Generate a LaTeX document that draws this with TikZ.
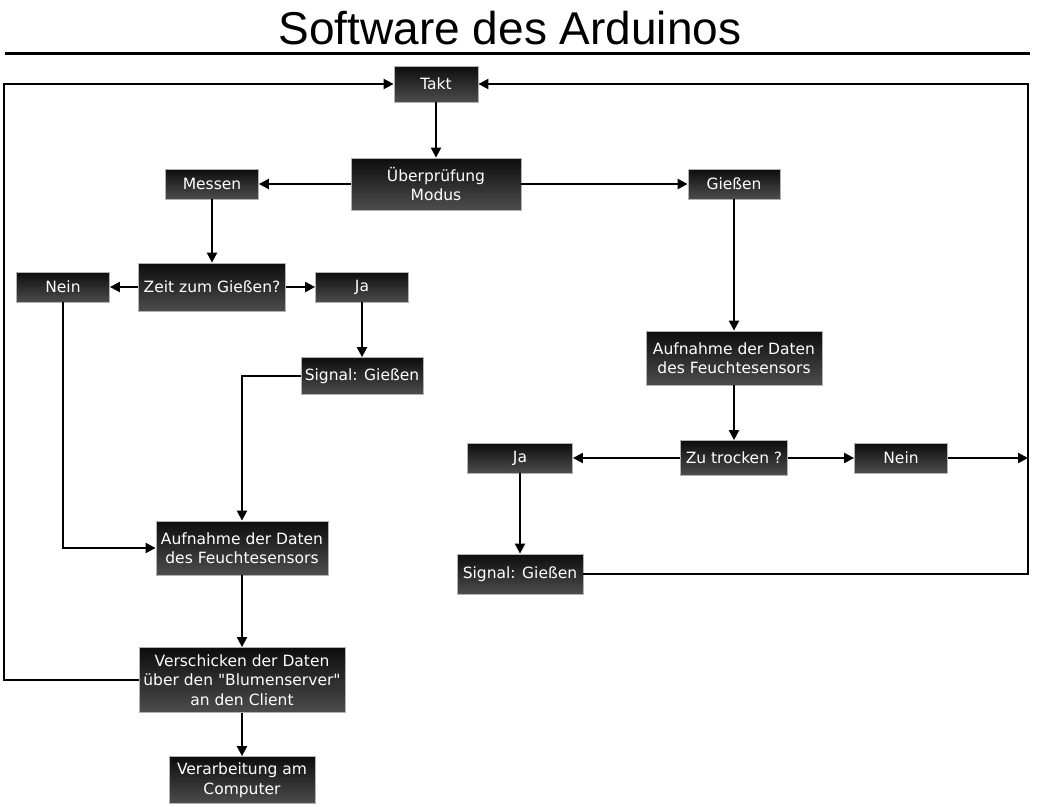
\documentclass[tikz,border=0pt]{standalone}
\usepackage{fontspec}
\setmainfont{DejaVu Sans}[Ligatures=TeXOff]
\newfontfamily\titelfont{Liberation Sans}
\usetikzlibrary{arrows.meta}
\begin{document}
\begin{tikzpicture}[x=1pt,y=-1pt,
  kasten/.style={draw=gray!60,line width=0.8pt,top color=black!95,bottom color=black!70,
    text=white,font=\fontsize{15.5}{19.5}\selectfont,align=center,inner sep=1pt},
  pfeil/.style={line width=2.2pt,-{Triangle[length=10pt,width=10pt]}},
  linie/.style={line width=2.2pt}]
\useasboundingbox (0,0) rectangle (1040,806);

\node [font=\titelfont\fontsize{46}{50}\selectfont] (titel) at (510,28) {Software des Arduinos};
\draw [line width=3pt] (5,53) -- (1030,53);

\node [kasten,minimum width=84pt,minimum height=36pt] (takt) at (436,84) {Takt};
\node [kasten,minimum width=170pt,minimum height=52pt] (pruef) at (436,184) {Überprüfung\\Modus};
\node [kasten,minimum width=93pt,minimum height=30pt] (messen) at (212,184) {Messen};
\node [kasten,minimum width=92pt,minimum height=30pt] (giessen) at (734,184) {Gießen};

\node [kasten,minimum width=147pt,minimum height=48pt] (zeit) at (212,287) {Zeit zum Gießen?};
\node [kasten,minimum width=93pt,minimum height=30pt] (neinL) at (63,287) {Nein};
\node [kasten,minimum width=93pt,minimum height=30pt] (jaL) at (362,287) {Ja};
\node [kasten,minimum width=122pt,minimum height=37pt] (signalL) at (362,376) {Signal: Gießen};
\node [kasten,minimum width=172pt,minimum height=54pt] (aufnL) at (242,548) {Aufnahme der Daten\\des Feuchtesensors};
\node [kasten,minimum width=206pt,minimum height=65pt] (versch) at (242,680) {Verschicken der Daten\\über den "Blumenserver"\\an den Client};
\node [kasten,minimum width=146pt,minimum height=47pt] (verarb) at (242,780) {Verarbeitung am\\Computer};

\node [kasten,minimum width=176pt,minimum height=54pt] (aufnR) at (734,358) {Aufnahme der Daten\\des Feuchtesensors};
\node [kasten,minimum width=107pt,minimum height=35pt] (trocken) at (734,458) {Zu trocken ?};
\node [kasten,minimum width=105pt,minimum height=30pt] (jaR) at (520,458) {Ja};
\node [kasten,minimum width=93pt,minimum height=30pt] (neinR) at (901,458) {Nein};
\node [kasten,minimum width=126pt,minimum height=40pt] (signalR) at (520,574) {Signal: Gießen};

\coordinate (lo) at (4,84);
\coordinate (ro) at (1028,84);
\coordinate (rm) at (1028,458);

\draw [pfeil] (takt) -- (pruef);
\draw [pfeil] (pruef) -- (messen);
\draw [pfeil] (pruef) -- (giessen);
\draw [pfeil] (messen) -- (zeit);
\draw [pfeil] (zeit) -- (neinL);
\draw [pfeil] (zeit) -- (jaL);
\draw [pfeil] (jaL) -- (signalL);
\draw [pfeil] (signalL) -| (aufnL);
\draw [pfeil] (neinL) |- (aufnL);
\draw [pfeil] (aufnL) -- (versch);
\draw [pfeil] (versch) -- (verarb);
\draw [pfeil] (versch.west) -| (lo) -- (takt);

\draw [pfeil] (giessen) -- (aufnR);
\draw [pfeil] (aufnR) -- (trocken);
\draw [pfeil] (trocken) -- (jaR);
\draw [pfeil] (trocken) -- (neinR);
\draw [pfeil] (jaR) -- (signalR);
\draw [pfeil] (neinR) -- (rm);
\draw [pfeil] (signalR.east) -| (ro) -- (takt);

\end{tikzpicture}
\end{document}
